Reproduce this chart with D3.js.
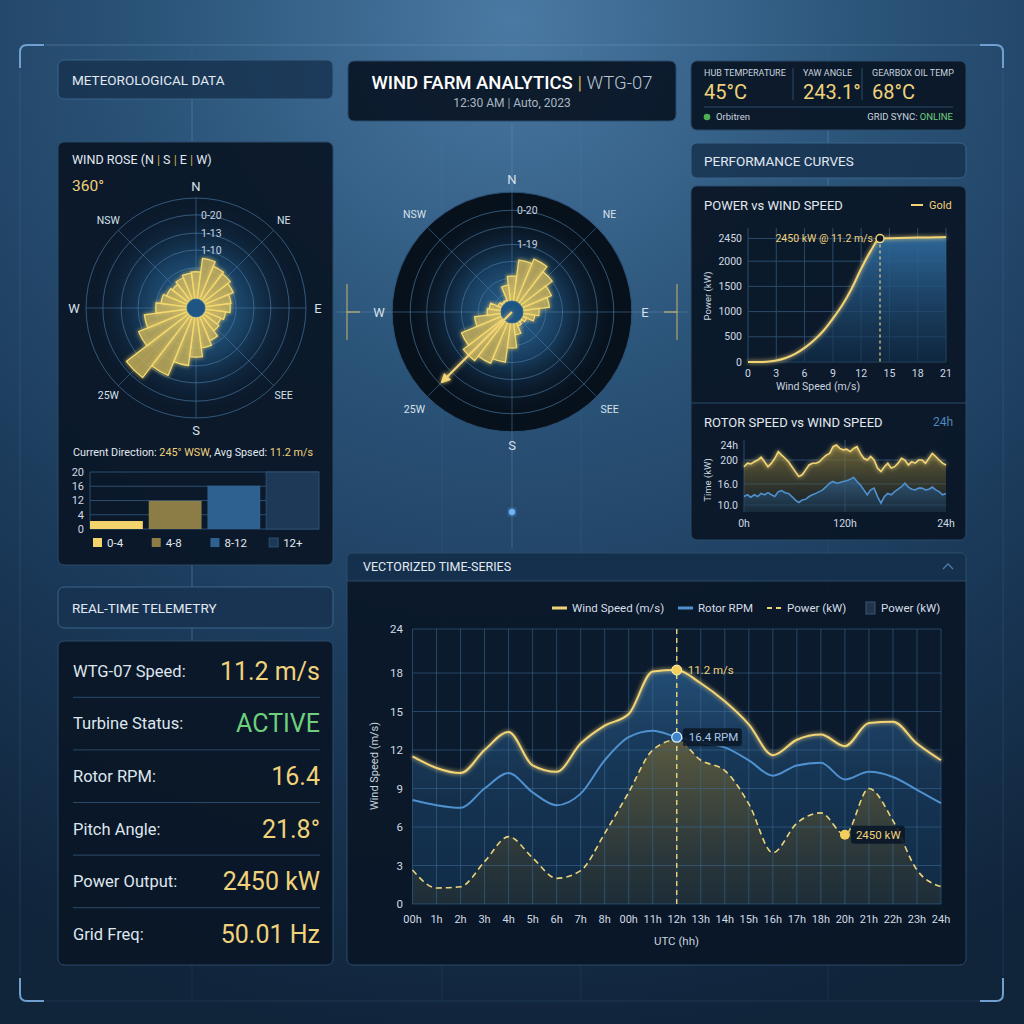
<!DOCTYPE html>
<html>
<head>
<meta charset="utf-8">
<script src="https://cdn.jsdelivr.net/npm/d3@7"></script>
<style>
  html, body { margin: 0; padding: 0; background: #12263b; }
  svg { display: block; font-family: Roboto, "DejaVu Sans", sans-serif; }
</style>
</head>
<body>
<script>
// ---------- data ----------
const statLabels = ["HUB TEMPERATURE", "YAW ANGLE", "GEARBOX OIL TEMP"];
const statValues = ["45°C", "243.1°", "68°C"];

const compassLabels = ["N", "NE", "E", "SEE", "S", "25W", "W", "NSW"];
const compassAngles = [0, 45, 90, 135, 180, 225, 270, 315];

const sectorAngles = [0, 15, 30, 45, 60, 75, 90, 105, 120, 135, 150, 165,
                      180, 195, 210, 225, 240, 255, 270, 285, 300, 315, 330, 345];
const roseLeftValues = [5.5, 8.3, 7.3, 6.9, 6.3, 5.3, 5.1, 4.2, 3.6, 4.0, 5.3, 6.3,
                        8.1, 9.9, 12.9, 15.9, 10.7, 8.7, 6.3, 5.3, 4.6, 4.2, 4.8, 5.3];
const roseLeftRings = [2.8, 6.3, 9.9, 13.3, 17, 20.4];
const roseLeftRingLabels = ["0-20", "1-13", "1-10"];
const roseLeftRingLabelVals = [17, 13.3, 9.9];

const roseCenterValues = [5.6, 9.3, 10.4, 8.9, 7.1, 6.0, 3.6, 2.7, 1.1, 0.4, 0.9, 2.7,
                          5.6, 8.9, 10.0, 11.3, 9.8, 6.0, 3.1, 2.7, 0.9, 0.4, 0.4, 3.6];
const roseCenterRings = [1.8, 5.1, 8.9, 12.7, 16.7, 20.4];
const roseCenterRingLabels = ["0-20", "1-19"];
const roseCenterRingLabelVals = [20.4, 12.7];
const arrowBearing = 225;
const arrowLength = 19.8;

const speedBins = ["0-4", "4-8", "8-12", "12+"];
const binValues = [2.8, 9.9, 15.2, 20];
const binColors = ["#f3d36c", "#8b7d45", "#2f6190", "#1d3957"];
const binTickVals = [0, 5, 10, 15, 20];
const binTickLabels = ["0", "4", "12", "16", "20"];

const powerWind = [0, 1, 2, 3, 4, 5, 6, 7, 8, 9, 10, 11, 12, 13, 14, 15, 16, 17, 18, 19, 20, 21];
const powerKW = [0, 0, 5, 30, 80, 160, 280, 430, 620, 860, 1130, 1460, 1850, 2200, 2450,
                 2455, 2460, 2465, 2470, 2472, 2475, 2478];
const powerTicks = [0, 500, 1000, 1500, 2000, 2450];
const windTicks = [0, 3, 6, 9, 12, 15, 18, 21];
const ratedWind = 14;

const rotorYellow = [20.9, 21.9, 21.7, 22.3, 22.8, 23.6, 22.3, 20.9, 21.9, 23.3, 25.2, 24.2,
                     23.3, 22.3, 20.9, 19.5, 18.1, 18.6, 20.0, 21.4, 21.9, 21.9, 22.3, 23.3,
                     24.2, 24.7, 26.6, 27.1, 26.1, 25.7, 25.9, 25.2, 26.1, 26.6, 24.7, 23.3,
                     22.8, 23.8, 22.8, 20.5, 19.5, 20.9, 21.9, 20.5, 20.9, 21.9, 23.3, 22.8,
                     21.4, 22.3, 21.9, 22.8, 22.8, 21.9, 23.3, 24.7, 23.8, 22.8, 21.9, 21.4];
const rotorBlue = [12.4, 12.9, 12.2, 12.9, 12.4, 13.3, 12.9, 13.5, 12.9, 12.4, 13.8, 14.1,
                   13.5, 13.3, 12.4, 11.4, 10.7, 11.4, 11.6, 12.4, 12.9, 13.3, 13.8, 14.3,
                   15.2, 16.2, 16.7, 16.2, 16.4, 16.7, 16.9, 17.3, 17.9, 16.7, 15.7, 14.3,
                   12.9, 14.3, 14.8, 12.4, 10.5, 12.4, 13.3, 12.9, 13.8, 14.5, 15.2, 16.2,
                   15.1, 14.5, 14.3, 14.8, 14.8, 14.3, 14.5, 15.1, 14.3, 13.8, 12.9, 13.3];
const rotorTickVals = [10, 16, 22.8, 27.1];
const rotorTickLabels = ["10.0", "16.0", "200", "24h"];
const rotorXTickVals = [0, 29.5, 59];
const rotorXTickLabels = ["0h", "120h", "24h"];

const tsLabels = ["00h", "1h", "2h", "3h", "4h", "5h", "6h", "7h", "8h", "00h", "11h", "12h",
                  "13h", "14h", "15h", "16h", "17h", "18h", "20h", "21h", "22h", "23h", "24h"];
const tsWind = [11.5, 10.6, 10.2, 12.0, 13.4, 10.8, 10.3, 12.5, 13.9, 14.8, 18.2, 18.4,
                17.2, 15.8, 14.0, 11.6, 12.8, 13.2, 12.3, 14.1, 14.2, 12.5, 11.2];
const tsRpm = [8.1, 7.7, 7.5, 9.0, 10.2, 8.7, 7.7, 8.6, 11.2, 13.0, 13.5, 13.0,
               12.6, 12.2, 11.2, 10.0, 10.8, 11.0, 9.7, 10.3, 9.9, 8.9, 7.85];
const tsPower = [2.65, 1.25, 1.35, 3.3, 5.25, 3.6, 2.0, 2.6, 5.5, 8.7, 12.0, 12.8,
                 11.2, 10.4, 7.8, 4.0, 6.3, 7.1, 5.4, 9.0, 6.5, 2.65, 1.35];
const tsYTicks = [0, 3, 6, 9, 12, 15, 18, 24];
const tsHighlight = 11;
const tsPowerMark = 18;
const tsLegend = ["Wind Speed (m/s)", "Rotor RPM", "Power (kW)", "Power (kW)"];

const telemLabels = ["WTG-07 Speed:", "Turbine Status:", "Rotor RPM:", "Pitch Angle:", "Power Output:", "Grid Freq:"];
const telemValues = ["11.2 m/s", "ACTIVE", "16.4", "21.8°", "2450 kW", "50.01 Hz"];

// ---------- setup ----------
const gold = "#f2d477", goldText = "#f0d27a", blueLine = "#4f90cf", txt = "#e2e9f1", muted = "#b9c6d4";
const green = "#6fcf7c";

const svg = d3.select("body").append("svg").attr("width", 1024).attr("height", 1024);
const defs = svg.append("defs");

function linGrad(id, stops) {
  const g = defs.append("linearGradient").attr("id", id).attr("x1", 0).attr("y1", 0).attr("x2", 0).attr("y2", 1);
  stops.forEach(s => g.append("stop").attr("offset", s[0]).attr("stop-color", s[1]).attr("stop-opacity", s[2]));
}
function radGrad(id, stops, cx, cy, r) {
  const g = defs.append("radialGradient").attr("id", id).attr("cx", cx).attr("cy", cy).attr("r", r);
  stops.forEach(s => g.append("stop").attr("offset", s[0]).attr("stop-color", s[1]).attr("stop-opacity", s[2]));
}
radGrad("bg", [[0, "#4a79a3", 1], [0.35, "#2b5479", 1], [0.7, "#1a3858", 1], [1, "#10243a", 1]], "50%", "2%", "100%");
radGrad("roseGlow", [[0, "#2f6896", 1], [0.45, "#1a4468", 0.9], [1, "#0a1626", 0]], "50%", "50%", "50%");
linGrad("powerFill", [[0, "#2f6a9c", 0.95], [1, "#12304d", 0.6]]);
linGrad("rotYel", [[0, "#8c7c3a", 0.8], [1, "#3b3a2a", 0.25]]);
linGrad("rotBlue", [[0, "#2f6394", 0.75], [1, "#1a3c5d", 0.35]]);
linGrad("tsWindFill", [[0, "#2b5f8f", 0.75], [1, "#112a45", 0.35]]);
linGrad("tsPowFill", [[0, "#66603a", 0.85], [1, "#2d3028", 0.45]]);

const glow = defs.append("filter").attr("id", "glow").attr("x", "-30%").attr("y", "-30%").attr("width", "160%").attr("height", "160%");
glow.append("feGaussianBlur").attr("stdDeviation", 2).attr("result", "b");
const gm = glow.append("feMerge");
gm.append("feMergeNode").attr("in", "b");
gm.append("feMergeNode").attr("in", "SourceGraphic");

defs.append("marker").attr("id", "arrowHead").attr("viewBox", "0 0 10 10").attr("refX", 8).attr("refY", 5)
  .attr("markerWidth", 5).attr("markerHeight", 5).attr("orient", "auto")
  .append("path").attr("d", "M0,0 L10,5 L0,10 Z").attr("fill", gold);

// ---------- background ----------
svg.append("rect").attr("width", 1024).attr("height", 1024).attr("fill", "url(#bg)");
[192, 442, 581, 828].forEach(x => svg.append("line").attr("x1", x).attr("x2", x).attr("y1", 45).attr("y2", 1000)
  .attr("stroke", "#6f9cc4").attr("stroke-opacity", 0.1));
svg.append("line").attr("x1", 45).attr("x2", 985).attr("y1", 45).attr("y2", 45).attr("stroke", "#7ea6cc").attr("stroke-opacity", 0.35);
svg.append("line").attr("x1", 45).attr("x2", 985).attr("y1", 1001).attr("y2", 1001).attr("stroke", "#7ea6cc").attr("stroke-opacity", 0.15);
svg.append("line").attr("x1", 20).attr("x2", 20).attr("y1", 70).attr("y2", 975).attr("stroke", "#7ea6cc").attr("stroke-opacity", 0.15);
svg.append("line").attr("x1", 1003).attr("x2", 1003).attr("y1", 70).attr("y2", 975).attr("stroke", "#7ea6cc").attr("stroke-opacity", 0.15);
const brackets = [
  "M20,68 L20,52 Q20,45 27,45 L44,45",
  "M980,45 L996,45 Q1003,45 1003,52 L1003,68",
  "M20,978 L20,994 Q20,1001 27,1001 L44,1001",
  "M980,1001 L996,1001 Q1003,1001 1003,994 L1003,978"
];
svg.selectAll("path.bracket").data(brackets).enter().append("path").attr("class", "bracket")
  .attr("d", d => d).attr("fill", "none").attr("stroke", "#6fa0cf").attr("stroke-width", 2);

// crosshair around the central rose
svg.append("line").attr("x1", 512).attr("x2", 512).attr("y1", 125).attr("y2", 548).attr("stroke", "#7ea6cc").attr("stroke-opacity", 0.3);
svg.append("line").attr("x1", 337).attr("x2", 688).attr("y1", 312).attr("y2", 312).attr("stroke", "#7ea6cc").attr("stroke-opacity", 0.3);
[[347, 347, 360], [677, 664, 677]].forEach(t => {
  svg.append("line").attr("x1", t[0]).attr("x2", t[0]).attr("y1", 284).attr("y2", 340)
    .attr("stroke", "#d9c06a").attr("stroke-opacity", 0.75).attr("stroke-width", 1.2);
  svg.append("line").attr("x1", t[1]).attr("x2", t[2]).attr("y1", 312).attr("y2", 312)
    .attr("stroke", "#d9c06a").attr("stroke-opacity", 0.85).attr("stroke-width", 1.3);
});
svg.append("circle").attr("cx", 512).attr("cy", 512).attr("r", 3).attr("fill", "#6fb6ff").attr("filter", "url(#glow)");

// ---------- panels ----------
function panel(x, y, w, h, head) {
  svg.append("rect").attr("x", x).attr("y", y).attr("width", w).attr("height", h).attr("rx", 6)
    .attr("fill", head ? "#173250" : "#0a1626").attr("fill-opacity", head ? 0.85 : 0.94)
    .attr("stroke", head ? "#3b6589" : "#2a4a6b").attr("stroke-width", 1);
}
[[192, 99, 142], [192, 565, 587], [192, 628, 641], [828, 130, 143], [828, 178, 186]].forEach(l =>
  svg.append("line").attr("x1", l[0]).attr("x2", l[0]).attr("y1", l[1]).attr("y2", l[2]).attr("stroke", "#6f9cc4").attr("stroke-opacity", 0.35));

panel(58, 60, 275, 39, true);
panel(348, 61, 328, 60, false);
panel(691, 61, 275, 69, false);
panel(58, 142, 275, 423, false);
panel(691, 143, 275, 35, true);
panel(691, 186, 275, 354, false);
panel(58, 587, 275, 41, true);
panel(58, 641, 275, 324, false);
panel(347, 553, 619, 412, false);
svg.append("path").attr("d", "M347,581 L347,559 Q347,553 353,553 L960,553 Q966,553 966,559 L966,581 Z")
  .attr("fill", "#14304d").attr("stroke", "#2a4a6b");

function label(x, y, s, size, color, anchor, weight) {
  return svg.append("text").attr("x", x).attr("y", y).attr("dy", "0.35em").text(s)
    .attr("font-size", size).attr("fill", color || txt).attr("text-anchor", anchor || "start")
    .attr("font-weight", weight || 400);
}
label(72, 80, "METEOROLOGICAL DATA", 13.5, txt);
label(704, 161, "PERFORMANCE CURVES", 13.5, txt);
label(72, 608, "REAL-TIME TELEMETRY", 13.5, txt);
label(363, 567, "VECTORIZED TIME-SERIES", 12.5, txt);
svg.append("path").attr("d", "M943,569 L948,564 L953,569").attr("fill", "none").attr("stroke", "#4d7aa5").attr("stroke-width", 1.3);

// ---------- title ----------
const title = svg.append("text").attr("x", 512).attr("y", 83).attr("dy", "0.35em").attr("text-anchor", "middle").attr("font-size", 18.5);
title.append("tspan").text("WIND FARM ANALYTICS ").attr("fill", "#ffffff").attr("font-weight", 500);
title.append("tspan").text("| ").attr("fill", "#c9a94f");
title.append("tspan").text("WTG-07").attr("fill", "#b9c4cf").attr("font-weight", 300);
const sub = svg.append("text").attr("x", 512).attr("y", 103).attr("dy", "0.35em").attr("text-anchor", "middle").attr("font-size", 12).attr("fill", "#aab6c3");
sub.append("tspan").text("12:30 AM ");
sub.append("tspan").text("|").attr("fill", "#8b98a6");
sub.append("tspan").text(" Auto, 2023");

// ---------- stats ----------
const statX = [704, 803, 872];
statLabels.forEach((s, i) => {
  label(statX[i], 73, s, 9, "#c9d3de");
  label(statX[i], 92, statValues[i], 20, goldText);
});
[793, 862].forEach(x => svg.append("line").attr("x1", x).attr("x2", x).attr("y1", 68).attr("y2", 100).attr("stroke", "#2c4a68"));
svg.append("line").attr("x1", 704).attr("x2", 953).attr("y1", 107).attr("y2", 107).attr("stroke", "#2c4a68");
svg.append("circle").attr("cx", 707).attr("cy", 117).attr("r", 3.3).attr("fill", "#4caf50");
label(716, 117, "Orbitren", 9.5, "#c9d3de");
const sync = svg.append("text").attr("x", 953).attr("y", 117).attr("dy", "0.35em").attr("text-anchor", "end").attr("font-size", 9.5);
sync.append("tspan").text("GRID SYNC: ").attr("fill", "#c9d3de");
sync.append("tspan").text("ONLINE").attr("fill", green);

// ---------- roses ----------
function drawRose(cx, cy, rScale, rings, values, cardR, diagR, ringLabels, ringLabelVals, dark, fontBig, fontSmall) {
  const g = svg.append("g").attr("transform", `translate(${cx},${cy})`);
  const R = rScale(rings[rings.length - 1]);
  const outer = dark ? R + 18 : R;
  if (dark) g.append("circle").attr("r", outer).attr("fill", "#07111c").attr("stroke", "#2b4f73");
  g.append("circle").attr("r", R + 2).attr("fill", "url(#roseGlow)");
  g.selectAll("circle.ring").data(rings).enter().append("circle").attr("class", "ring")
    .attr("r", d => rScale(d)).attr("fill", "none").attr("stroke", "#4f80ad").attr("stroke-opacity", 0.6);
  [0, 45, 90, 135].forEach(a => {
    const t = a * Math.PI / 180;
    g.append("line").attr("x1", -outer * Math.sin(t)).attr("y1", outer * Math.cos(t))
      .attr("x2", outer * Math.sin(t)).attr("y2", -outer * Math.cos(t))
      .attr("stroke", "#4f80ad").attr("stroke-opacity", 0.5);
  });
  const half = 7.5 * Math.PI / 180;
  g.selectAll("path.sector").data(values).enter().append("path").attr("class", "sector")
    .attr("d", (d, i) => d3.arc()
      .innerRadius(rScale(0))
      .outerRadius(rScale(d))
      .startAngle(sectorAngles[i] * Math.PI / 180 - half)
      .endAngle(sectorAngles[i] * Math.PI / 180 + half)())
    .attr("fill", "#cdb55a").attr("fill-opacity", 0.55)
    .attr("stroke", "#f4d86f").attr("stroke-width", 1.3).attr("filter", "url(#glow)");
  g.append("circle").attr("r", rScale(0)).attr("fill", "#1f5582").attr("stroke", "#2d6794");
  ringLabels.forEach((s, i) => {
    g.append("text").attr("x", 5).attr("y", -rScale(ringLabelVals[i])).attr("dy", "0.35em")
      .text(s).attr("font-size", 10.5).attr("fill", "#c7d4e2");
  });
  compassLabels.forEach((s, i) => {
    const t = compassAngles[i] * Math.PI / 180;
    const r = compassAngles[i] % 90 === 0 ? cardR : diagR;
    g.append("text").attr("x", r * Math.sin(t)).attr("y", -r * Math.cos(t)).attr("dy", "0.35em")
      .attr("text-anchor", "middle").text(s)
      .attr("font-size", compassAngles[i] % 90 === 0 ? fontBig : fontSmall).attr("fill", "#d7e0ea");
  });
  return g;
}

const rScaleL = d3.scaleLinear().domain([0, 20]).range([9, 108]);
drawRose(196, 308, rScaleL, roseLeftRings, roseLeftValues, 122, 124, roseLeftRingLabels, roseLeftRingLabelVals, false, 13, 10.5);

const rScaleC = d3.scaleLinear().domain([0, 20]).range([11, 100]);
const cg = drawRose(512, 312, rScaleC, roseCenterRings, roseCenterValues, 133, 138, roseCenterRingLabels, roseCenterRingLabelVals, true, 13, 10.5);
const at = arrowBearing * Math.PI / 180;
cg.append("line").attr("x1", 0).attr("y1", 0)
  .attr("x2", rScaleC(arrowLength) * Math.sin(at)).attr("y2", -rScaleC(arrowLength) * Math.cos(at))
  .attr("stroke", gold).attr("stroke-width", 2).attr("marker-end", "url(#arrowHead)").attr("filter", "url(#glow)");

// wind rose title
const wr = svg.append("text").attr("x", 72).attr("y", 160).attr("dy", "0.35em").attr("font-size", 12.5).attr("fill", txt);
wr.append("tspan").text("WIND ROSE (");
["N", "S", "E", "W"].forEach((c, i) => {
  wr.append("tspan").text(c);
  if (i < 3) wr.append("tspan").text(" | ").attr("fill", "#c9a94f");
});
wr.append("tspan").text(")");
label(72, 186, "360°", 15.5, goldText);

// current direction
const cd = svg.append("text").attr("x", 73).attr("y", 452).attr("dy", "0.35em").attr("font-size", 10.8).attr("fill", txt);
cd.append("tspan").text("Current Direction: ");
cd.append("tspan").text("245° WSW").attr("fill", goldText);
cd.append("tspan").text(", Avg Spsed: ");
cd.append("tspan").text("11.2 m/s").attr("fill", goldText);

// ---------- speed bin bars ----------
const bx = d3.scaleBand().domain(speedBins).range([90, 319]).paddingInner(0.1);
const by = d3.scaleLinear().domain([0, 20]).range([529, 472]);
const bg = svg.append("g");
bg.selectAll("line.grid").data(binTickVals).enter().append("line").attr("class", "grid")
  .attr("x1", 90).attr("x2", 319).attr("y1", d => by(d)).attr("y2", d => by(d))
  .attr("stroke", "#2d4d6e");
bg.append("line").attr("x1", 90).attr("x2", 90).attr("y1", 472).attr("y2", 529).attr("stroke", "#2d4d6e");
bg.selectAll("text.tick").data(binTickVals).enter().append("text").attr("class", "tick")
  .attr("x", 84).attr("y", d => by(d)).attr("dy", "0.35em").attr("text-anchor", "end")
  .attr("font-size", 11).attr("fill", "#d0dae5").text((d, i) => binTickLabels[i]);
bg.selectAll("rect.bin").data(binValues).enter().append("rect").attr("class", "bin")
  .attr("x", (d, i) => bx(speedBins[i])).attr("width", bx.bandwidth())
  .attr("y", d => by(d)).attr("height", d => by(0) - by(d))
  .attr("fill", (d, i) => binColors[i]).attr("stroke", (d, i) => i === 3 ? "#2e4e70" : "none");
speedBins.forEach((s, i) => {
  bg.append("rect").attr("x", bx(s) + 3).attr("y", 538).attr("width", 9).attr("height", 9)
    .attr("fill", binColors[i]).attr("stroke", i === 3 ? "#2e4e70" : "none");
  bg.append("text").attr("x", bx(s) + 17).attr("y", 542.5).attr("dy", "0.35em").attr("font-size", 11.5)
    .attr("fill", txt).text(s);
});

// ---------- power curve ----------
label(704, 205, "POWER vs WIND SPEED", 13, txt);
svg.append("line").attr("x1", 911).attr("x2", 923).attr("y1", 205).attr("y2", 205).attr("stroke", gold).attr("stroke-width", 2);
label(929, 205, "Gold", 11, goldText);

const px = d3.scaleLinear().domain([0, 21]).range([748, 946]);
const py = d3.scaleLinear().domain([0, 2500]).range([362, 236]);
const pg = svg.append("g");
pg.selectAll("line.h").data(powerTicks).enter().append("line").attr("class", "h")
  .attr("x1", px(0)).attr("x2", px(21)).attr("y1", d => py(d)).attr("y2", d => py(d)).attr("stroke", "#2a4a6a");
pg.selectAll("line.v").data(windTicks).enter().append("line").attr("class", "v")
  .attr("x1", d => px(d)).attr("x2", d => px(d)).attr("y1", 228).attr("y2", 362).attr("stroke", "#2a4a6a");
pg.append("path").datum(powerWind)
  .attr("d", d3.area().x(d => px(d)).y0(py(0)).y1((d, i) => py(powerKW[i])).curve(d3.curveMonotoneX))
  .attr("fill", "url(#powerFill)");
pg.append("path").datum(powerWind)
  .attr("d", d3.line().x(d => px(d)).y((d, i) => py(powerKW[i])).curve(d3.curveMonotoneX))
  .attr("fill", "none").attr("stroke", gold).attr("stroke-width", 2).attr("filter", "url(#glow)");
pg.append("line").attr("x1", px(ratedWind)).attr("x2", px(ratedWind)).attr("y1", py(2450)).attr("y2", py(0))
  .attr("stroke", gold).attr("stroke-dasharray", "3,3").attr("stroke-width", 1.2);
pg.append("circle").attr("cx", px(ratedWind)).attr("cy", py(2450)).attr("r", 4).attr("fill", "#0a1626").attr("stroke", gold).attr("stroke-width", 1.5);
pg.append("text").attr("x", px(ratedWind) - 7).attr("y", py(2450)).attr("dy", "0.35em").attr("text-anchor", "end")
  .attr("font-size", 10.5).attr("fill", goldText).text("2450 kW @ 11.2 m/s");
pg.selectAll("text.yt").data(powerTicks).enter().append("text").attr("class", "yt")
  .attr("x", 742).attr("y", d => py(d)).attr("dy", "0.35em").attr("text-anchor", "end")
  .attr("font-size", 10.5).attr("fill", "#d0dae5").text(d => d);
pg.selectAll("text.xt").data(windTicks).enter().append("text").attr("class", "xt")
  .attr("x", d => px(d)).attr("y", 373).attr("dy", "0.35em").attr("text-anchor", "middle")
  .attr("font-size", 10.5).attr("fill", "#d0dae5").text(d => d);
label(818, 386, "Wind Speed (m/s)", 10.5, "#c7d3df", "middle");
svg.append("text").attr("transform", "translate(708,296) rotate(-90)").attr("dy", "0.35em")
  .attr("text-anchor", "middle").attr("font-size", 9.5).attr("fill", "#c7d3df").text("Power (kW)");

svg.append("line").attr("x1", 691).attr("x2", 966).attr("y1", 403).attr("y2", 403).attr("stroke", "#2a4a6b");

// ---------- rotor chart ----------
label(704, 422, "ROTOR SPEED vs WIND SPEED", 13, txt);
label(953, 422, "24h", 12, "#4e86bd", "end");
const rx = d3.scaleLinear().domain([0, rotorYellow.length - 1]).range([744, 946]);
const ry = d3.scaleLinear().domain([8, 28.5]).range([512, 440]);
const rg = svg.append("g");
rg.selectAll("line.h").data(rotorTickVals.slice(0, 3)).enter().append("line").attr("class", "h")
  .attr("x1", 744).attr("x2", 946).attr("y1", d => ry(d)).attr("y2", d => ry(d)).attr("stroke", "#2a4a6a");
rg.append("line").attr("x1", rx(29.5)).attr("x2", rx(29.5)).attr("y1", 440).attr("y2", 512).attr("stroke", "#2f5275");
rg.append("line").attr("x1", 744).attr("x2", 744).attr("y1", 440).attr("y2", 512).attr("stroke", "#2a4a6a");
rg.append("path").datum(rotorYellow)
  .attr("d", d3.area().x((d, i) => rx(i)).y0(ry(8)).y1(d => ry(d)))
  .attr("fill", "url(#rotYel)");
rg.append("path").datum(rotorBlue)
  .attr("d", d3.area().x((d, i) => rx(i)).y0(ry(8)).y1(d => ry(d)))
  .attr("fill", "url(#rotBlue)");
rg.append("path").datum(rotorYellow)
  .attr("d", d3.line().x((d, i) => rx(i)).y(d => ry(d)))
  .attr("fill", "none").attr("stroke", gold).attr("stroke-width", 1.6).attr("filter", "url(#glow)");
rg.append("path").datum(rotorBlue)
  .attr("d", d3.line().x((d, i) => rx(i)).y(d => ry(d)))
  .attr("fill", "none").attr("stroke", blueLine).attr("stroke-width", 1.6);
rg.selectAll("text.yt").data(rotorTickVals).enter().append("text").attr("class", "yt")
  .attr("x", 738).attr("y", d => ry(d)).attr("dy", "0.35em").attr("text-anchor", "end")
  .attr("font-size", 10.5).attr("fill", "#d0dae5").text((d, i) => rotorTickLabels[i]);
rg.selectAll("text.xt").data(rotorXTickVals).enter().append("text").attr("class", "xt")
  .attr("x", d => rx(d)).attr("y", 523).attr("dy", "0.35em").attr("text-anchor", "middle")
  .attr("font-size", 10.5).attr("fill", "#d0dae5").text((d, i) => rotorXTickLabels[i]);
svg.append("text").attr("transform", "translate(708,480) rotate(-90)").attr("dy", "0.35em")
  .attr("text-anchor", "middle").attr("font-size", 9.5).attr("fill", "#c7d3df").text("Time (kW)");

// ---------- vectorized time-series ----------
const tx = d3.scaleLinear().domain([0, tsLabels.length - 1]).range([412.5, 941]);
const ty = d3.scaleLinear().domain([0, 18, 24]).range([904, 673, 629]);
const tg = svg.append("g");
tg.append("rect").attr("x", 412.5).attr("y", 629).attr("width", 528.5).attr("height", 275).attr("fill", "#0b1a2c");
tg.append("path").datum(tsWind)
  .attr("d", d3.area().x((d, i) => tx(i)).y0(ty(0)).y1(d => ty(d)).curve(d3.curveMonotoneX))
  .attr("fill", "url(#tsWindFill)");
tg.append("path").datum(tsRpm)
  .attr("d", d3.area().x((d, i) => tx(i)).y0(ty(0)).y1(d => ty(d)).curve(d3.curveMonotoneX))
  .attr("fill", "#16395c").attr("fill-opacity", 0.45);
tg.append("path").datum(tsPower)
  .attr("d", d3.area().x((d, i) => tx(i)).y0(ty(0)).y1(d => ty(d)).curve(d3.curveMonotoneX))
  .attr("fill", "url(#tsPowFill)");
tg.selectAll("line.h").data(tsYTicks).enter().append("line").attr("class", "h")
  .attr("x1", tx(0)).attr("x2", tx(tsLabels.length - 1)).attr("y1", d => ty(d)).attr("y2", d => ty(d))
  .attr("stroke", "#3c6c97").attr("stroke-opacity", 0.55);
tg.selectAll("line.v").data(tsLabels).enter().append("line").attr("class", "v")
  .attr("x1", (d, i) => tx(i)).attr("x2", (d, i) => tx(i)).attr("y1", ty(24)).attr("y2", ty(0))
  .attr("stroke", "#3c6c97").attr("stroke-opacity", 0.55);
tg.append("path").datum(tsWind)
  .attr("d", d3.line().x((d, i) => tx(i)).y(d => ty(d)).curve(d3.curveMonotoneX))
  .attr("fill", "none").attr("stroke", gold).attr("stroke-width", 2).attr("filter", "url(#glow)");
tg.append("path").datum(tsRpm)
  .attr("d", d3.line().x((d, i) => tx(i)).y(d => ty(d)).curve(d3.curveMonotoneX))
  .attr("fill", "none").attr("stroke", blueLine).attr("stroke-width", 2);
tg.append("path").datum(tsPower)
  .attr("d", d3.line().x((d, i) => tx(i)).y(d => ty(d)).curve(d3.curveMonotoneX))
  .attr("fill", "none").attr("stroke", "#ead37c").attr("stroke-width", 1.6).attr("stroke-dasharray", "6,4");
tg.append("line").attr("x1", tx(tsHighlight)).attr("x2", tx(tsHighlight)).attr("y1", ty(24)).attr("y2", ty(0))
  .attr("stroke", gold).attr("stroke-width", 1.4).attr("stroke-dasharray", "5,4");

// axes
tg.selectAll("text.yt").data(tsYTicks).enter().append("text").attr("class", "yt")
  .attr("x", 403).attr("y", d => ty(d)).attr("dy", "0.35em").attr("text-anchor", "end")
  .attr("font-size", 11.5).attr("fill", "#d0dae5").text(d => d);
tg.selectAll("text.xt").data(tsLabels).enter().append("text").attr("class", "xt")
  .attr("x", (d, i) => tx(i)).attr("y", 919).attr("dy", "0.35em").attr("text-anchor", "middle")
  .attr("font-size", 11).attr("fill", "#d0dae5").text(d => d);
label(676.5, 941, "UTC (hh)", 11.5, "#c7d3df", "middle");
svg.append("text").attr("transform", "translate(374,766) rotate(-90)").attr("dy", "0.35em")
  .attr("text-anchor", "middle").attr("font-size", 11).attr("fill", "#c7d3df").text("Wind Speed (m/s)");

// highlight markers
tg.append("circle").attr("cx", tx(tsHighlight)).attr("cy", ty(tsWind[tsHighlight])).attr("r", 5)
  .attr("fill", "#f2cf5a").attr("stroke", "#fff1b8").attr("stroke-width", 1);
tg.append("text").attr("x", tx(tsHighlight) + 11).attr("y", ty(tsWind[tsHighlight])).attr("dy", "0.35em")
  .attr("font-size", 11.5).attr("fill", goldText).text("11.2 m/s");
tg.append("rect").attr("x", tx(tsHighlight) + 6).attr("y", ty(tsRpm[tsHighlight]) - 9).attr("width", 59).attr("height", 18).attr("rx", 3)
  .attr("fill", "#0b1828").attr("fill-opacity", 0.9);
tg.append("circle").attr("cx", tx(tsHighlight)).attr("cy", ty(tsRpm[tsHighlight])).attr("r", 5)
  .attr("fill", "#3f86c9").attr("stroke", "#d9ecff").attr("stroke-width", 1.2);
tg.append("text").attr("x", tx(tsHighlight) + 12).attr("y", ty(tsRpm[tsHighlight])).attr("dy", "0.35em")
  .attr("font-size", 11.5).attr("fill", "#a8c9ea").text("16.4 RPM");
tg.append("rect").attr("x", tx(tsPowerMark) + 6).attr("y", ty(tsPower[tsPowerMark]) - 9).attr("width", 54).attr("height", 18).attr("rx", 3)
  .attr("fill", "#0b1828").attr("fill-opacity", 0.92);
tg.append("circle").attr("cx", tx(tsPowerMark)).attr("cy", ty(tsPower[tsPowerMark])).attr("r", 5)
  .attr("fill", "#f2cf5a");
tg.append("text").attr("x", tx(tsPowerMark) + 11).attr("y", ty(tsPower[tsPowerMark])).attr("dy", "0.35em")
  .attr("font-size", 11.5).attr("fill", goldText).text("2450 kW");

// legend
const legX = [552, 678, 767, 866];
const lg = svg.append("g");
lg.append("line").attr("x1", legX[0]).attr("x2", legX[0] + 15).attr("y1", 608).attr("y2", 608).attr("stroke", gold).attr("stroke-width", 3);
lg.append("line").attr("x1", legX[1]).attr("x2", legX[1] + 15).attr("y1", 608).attr("y2", 608).attr("stroke", blueLine).attr("stroke-width", 3);
lg.append("line").attr("x1", legX[2]).attr("x2", legX[2] + 16).attr("y1", 608).attr("y2", 608).attr("stroke", "#ead37c").attr("stroke-width", 2).attr("stroke-dasharray", "5,4");
lg.append("rect").attr("x", legX[3]).attr("y", 602).attr("width", 9).attr("height", 12).attr("fill", "#22364b").attr("stroke", "#3a5470");
tsLegend.forEach((s, i) => {
  lg.append("text").attr("x", legX[i] + (i === 3 ? 15 : 20)).attr("y", 608).attr("dy", "0.35em")
    .attr("font-size", 11.5).attr("fill", "#d5dee8").text(s);
});

// ---------- telemetry ----------
const rowY = d3.scalePoint().domain(telemLabels).range([671, 934]);
const tel = svg.append("g");
telemLabels.forEach((s, i) => {
  tel.append("text").attr("x", 73).attr("y", rowY(s)).attr("dy", "0.35em").attr("font-size", 16.5)
    .attr("fill", "#dfe6ee").text(s);
  tel.append("text").attr("x", 320).attr("y", rowY(s)).attr("dy", "0.35em").attr("text-anchor", "end")
    .attr("font-size", 25).attr("fill", i === 1 ? green : goldText).text(telemValues[i]);
  if (i > 0) {
    const yy = (rowY(s) + rowY(telemLabels[i - 1])) / 2;
    tel.append("line").attr("x1", 73).attr("x2", 320).attr("y1", yy).attr("y2", yy).attr("stroke", "#2b4a6a");
  }
});
</script>
</body>
</html>
